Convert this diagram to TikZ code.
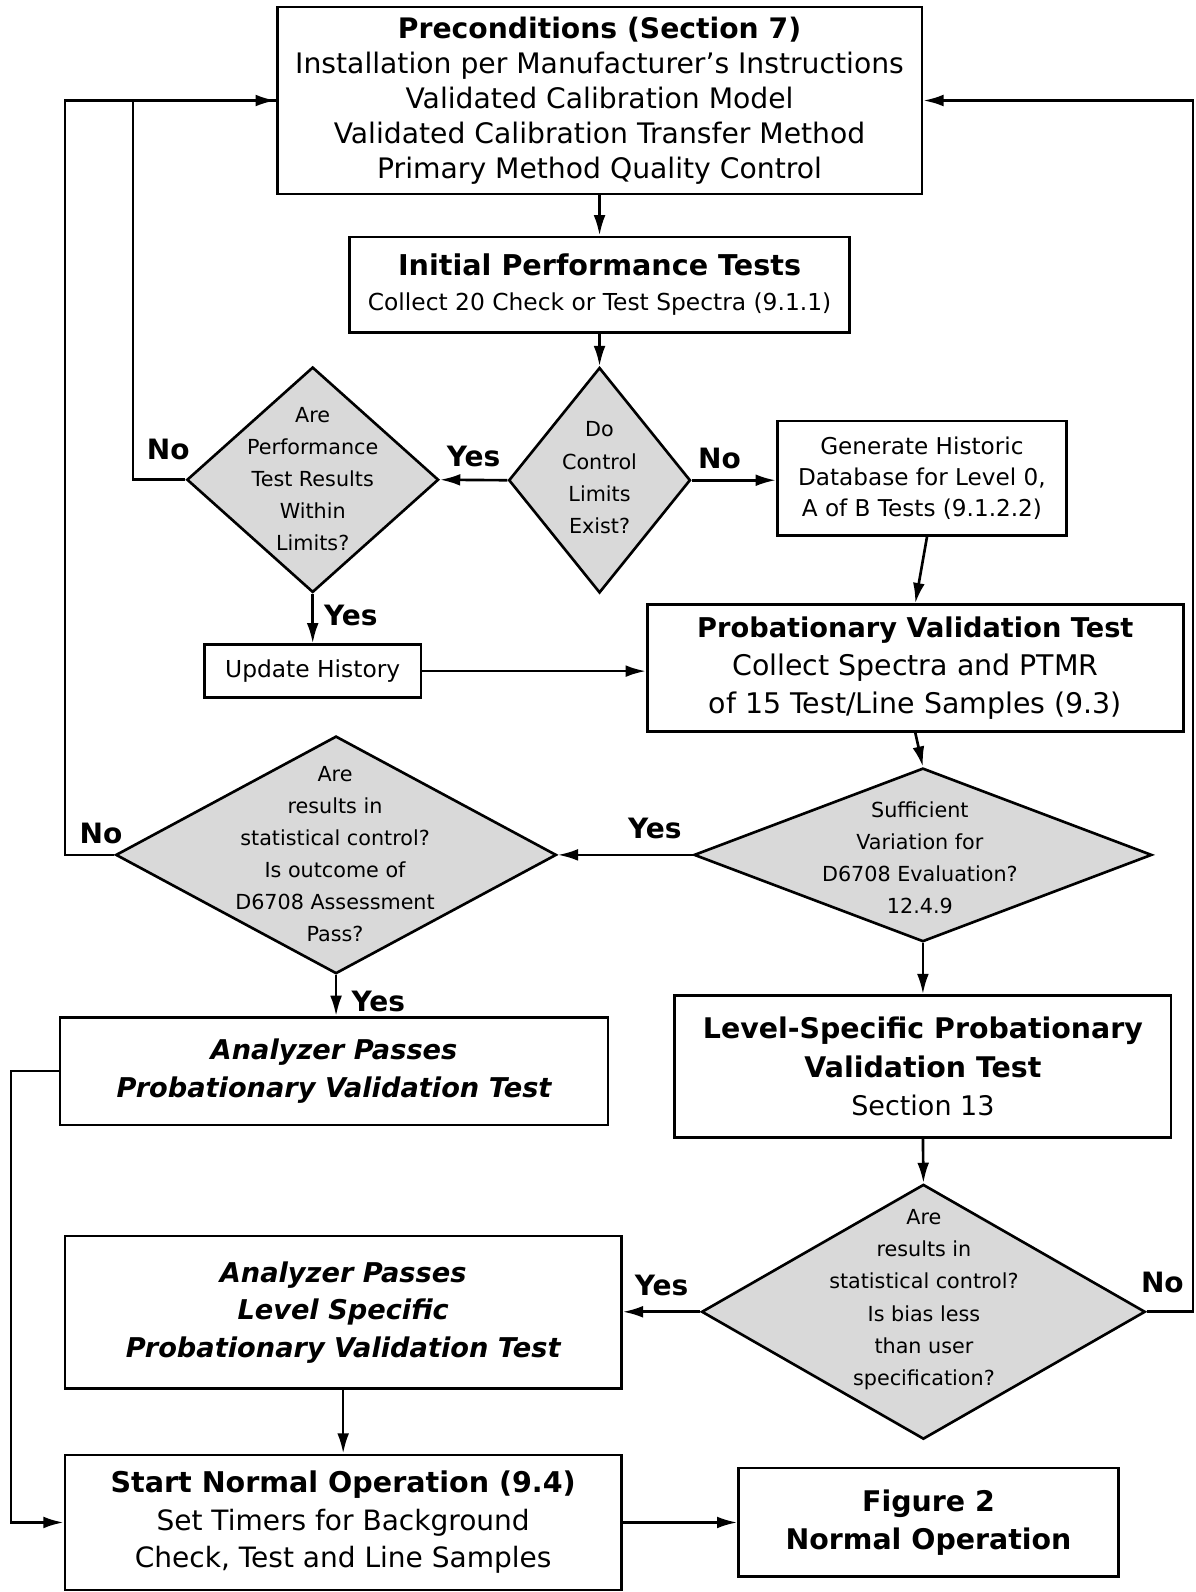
\documentclass[tikz,border=0pt]{standalone}
\usepackage{fontspec}
\setmainfont{DejaVu Sans}
\usetikzlibrary{arrows.meta,shapes.geometric}
\definecolor{decfill}{RGB}{217,217,217}

\begin{document}
\begin{tikzpicture}[>={Latex[length=10pt,width=5.8pt]},x=0.5pt,y=-0.5pt,line width=1.3pt,
        box/.style={draw,rectangle,inner sep=0pt,align=center},
        decision/.style={draw,diamond,fill=decfill,inner sep=0pt},
        dectext/.style={align=center,inner sep=0pt,font=\fontsize{10.2}{15.8}\selectfont},
        yn/.style={inner sep=1pt,font=\fontsize{13.8}{16}\selectfont\bfseries}]
        \useasboundingbox (0,0) rectangle (1177,1568);

        % rails for the loops
        \coordinate (brail) at (11,0);
        \coordinate (lrail) at (64,0);
        \coordinate (mrail) at (131,0);
        \coordinate (rrail) at (1175,0);

        % boxes
        \node[box,minimum width=317.5pt,minimum height=92pt,font=\fontsize{13.9}{17.25}\selectfont] (pre) at (590.5,99)
            {{\bfseries Preconditions (Section 7)}\\Installation per Manufacturer’s Instructions\\Validated Calibration Model\\Validated Calibration Transfer Method\\Primary Method Quality Control};
        \node[box,minimum width=246pt,minimum height=47.25pt,font=\fontsize{11.5}{17}\selectfont] (init) at (590.5,280.5)
            {{\fontsize{14.1}{17}\selectfont\bfseries Initial Performance Tests}\\Collect 20 Check or Test Spectra (9.1.1)};
        \node[box,minimum width=142.5pt,minimum height=56.5pt,font=\fontsize{11.4}{15.5}\selectfont] (gen) at (908,471)
            {Generate Historic\\Database for Level 0,\\A of B Tests (9.1.2.2)};
        \node[box,minimum width=106.5pt,minimum height=26pt,font=\fontsize{11.5}{15.5}\selectfont] (upd) at (308,661) {Update History};
        \node[box,minimum width=264pt,minimum height=62.5pt,font=\fontsize{14}{18.5}\selectfont] (prob) at (901.5,658)
            {{\fontsize{13.4}{18.5}\selectfont\bfseries Probationary Validation Test}\\Collect Spectra and PTMR\\of 15 Test/Line Samples (9.3)};
        \node[box,minimum width=244.5pt,minimum height=70pt,font=\fontsize{13.3}{19}\selectfont] (level) at (909,1050.5)
            {{\fontsize{14}{19}\selectfont\bfseries Level-Specific Probationary}\\{\fontsize{14}{19}\selectfont\bfseries Validation Test}\\Section 13};
        \node[box,minimum width=270pt,minimum height=53pt,font=\fontsize{13.4}{18.5}\selectfont\bfseries\itshape] (apass) at (329,1055)
            {Analyzer Passes\\Probationary Validation Test};
        \node[box,minimum width=274pt,minimum height=75pt,font=\fontsize{13.4}{18.5}\selectfont\bfseries\itshape] (alevel) at (338,1292.5)
            {Analyzer Passes\\Level Specific\\Probationary Validation Test};
        \node[box,minimum width=274pt,minimum height=66.5pt,font=\fontsize{13.8}{18.5}\selectfont] (start) at (338,1499.5)
            {{\fontsize{14.07}{18.5}\selectfont\bfseries Start Normal Operation (9.4)}\\Set Timers for Background\\Check, Test and Line Samples};
        \node[box,minimum width=187pt,minimum height=53.5pt,font=\fontsize{14}{19}\selectfont\bfseries] (fig) at (914.5,1499.5)
            {Figure 2\\Normal Operation};

        % decisions
        \node[decision,minimum width=89.5pt,minimum height=111pt] (qctl) at (590.5,473) {};
        \node[dectext] (qctl-t) at (590.5,470.5) {Do\\Control\\Limits\\Exist?};
        \node[decision,minimum width=124pt,minimum height=111pt] (qperf) at (308,472.5) {};
        \node[dectext] (qperf-t) at (308,472) {Are\\Performance\\Test Results\\Within\\Limits?};
        \node[decision,minimum width=217pt,minimum height=117pt] (qstat) at (331,842) {};
        \node[dectext] (qstat-t) at (330,841) {Are\\results in\\statistical control?\\Is outcome of\\D6708 Assessment\\Pass?};
        \node[decision,minimum width=225.5pt,minimum height=85.5pt] (qvar) at (909,842) {};
        \node[dectext] (qvar-t) at (906,845) {Sufficient\\Variation for\\D6708 Evaluation?\\12.4.9};
        \node[decision,minimum width=218.5pt,minimum height=125.5pt] (qbias) at (909.5,1292) {};
        \node[dectext] (qbias-t) at (910,1280) {Are\\results in\\statistical control?\\Is bias less\\than user\\specification?};

        % straight down
        \foreach \a/\b in {pre/init,init/qctl,qvar/level,level/qbias,alevel/start}
            \draw[->] (\a.south) -- (\b.north);
        \draw[->] (qperf.south) -- node[yn,pos=0.44,right=4pt]{Yes} (upd.north);
        \draw[->] (qstat.south) -- node[yn,pos=0.65,right=6pt]{Yes} (qstat.south |- apass.north);
        \draw[->] ([xshift=2.5pt]gen.south) -- (prob.north);
        \draw[->] (prob.south) -- (qvar.north);

        % across
        \draw[->] (qctl.west) -- node[yn,above=5pt]{Yes} (qperf.east);
        \draw[->] (qctl.east) -- node[yn,pos=0.33,above=4pt]{No} (qctl.east -| gen.west);
        \draw[->] (upd.east) -- (upd.east -| prob.west);
        \draw[->] (qvar.west) -- node[yn,pos=0.28,above=6pt]{Yes} (qstat.east);
        \draw[->] (qbias.west) -- node[yn,above=6pt]{Yes} (qbias.west -| alevel.east);
        \draw[->] (start.east) -- (fig.west);

        % loops back
        \draw (qperf.west) -- node[yn,pos=0.33,above=8pt]{No} (qperf.west -| mrail) |- (pre.west);
        \draw[->] (qstat.west) -- node[yn,pos=0.27,above=4pt]{No} (qstat.west -| lrail) |- (pre.west);
        \draw[->] (qbias.east) -- node[yn,pos=0.34,above=7.5pt]{No} (qbias.east -| rrail) |- (pre.east);
        \draw[->] (apass.west) -- (apass.west -| brail) |- (start.west);

\end{tikzpicture}
\end{document}
